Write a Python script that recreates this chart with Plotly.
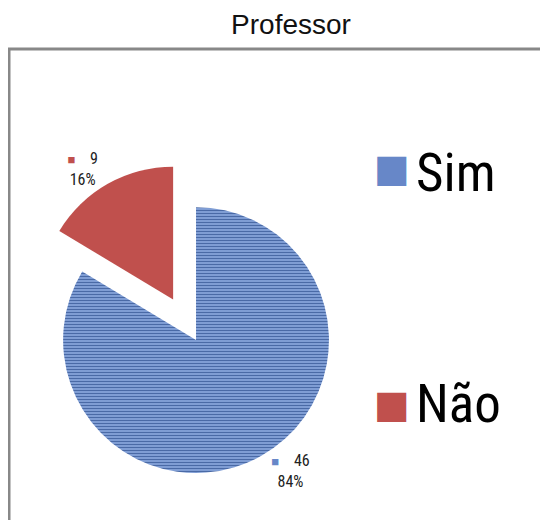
import plotly.graph_objects as go

# ---- data ----
labels = ["Sim", "Não"]
values = [46, 9]
colors = ["#6787c8", "#c0504d"]
title_text = "Professor"

NARROW = "Liberation Sans Narrow, Arial Narrow, Roboto Condensed, sans-serif"

texttemplates = [
    "<span style='color:%s;font-size:13px'>■</span>    %%{value}<br>%%{percent:.0%%}" % c
    for c in colors
]

fig = go.Figure()
fig.add_trace(go.Pie(
    labels=labels,
    values=values,
    sort=False,
    direction="clockwise",
    rotation=0,
    pull=[0, 0.35],
    marker=dict(
        colors=colors,
        line=dict(width=0),
        pattern=dict(shape=["-", ""], fgcolor=["#4a6aa6", "#c0504d"],
                     bgcolor=["#8aa8de", "#c0504d"], size=3, solidity=0.45),
    ),
    textposition="outside",
    texttemplate=texttemplates,
    textinfo="none",
    outsidetextfont=dict(family=NARROW, size=16, color="#222"),
    domain=dict(x=[0.014, 0.680], y=[0.001, 0.763]),
    showlegend=False,
    automargin=False,
    hoverinfo="label+value+percent",
))

# legend drawn as text, built from labels/colors
marker_y = [0.7475, 0.2455]
text_y = [0.737, 0.246]
annotations = []
for lab, col, my, ty in zip(labels, colors, marker_y, text_y):
    annotations.append(dict(
        x=0.7097, y=my, xref="paper", yref="paper", xanchor="center", yanchor="middle",
        text="■", showarrow=False, font=dict(family="DejaVu Sans", size=38, color=col)))
    annotations.append(dict(
        x=0.7516, y=ty, xref="paper", yref="paper", xanchor="left", yanchor="middle",
        text=lab, showarrow=False, font=dict(family=NARROW, size=53, color="#000")))

fig.update_layout(
    width=540, height=512,
    margin=dict(l=1, r=0, t=41, b=0, autoexpand=False),
    paper_bgcolor="white",
    plot_bgcolor="white",
    title=dict(text=title_text, x=283 / 540, xref="container", xanchor="center",
               y=1 - 16 / 512, yref="container", yanchor="middle",
               font=dict(family="Liberation Sans, Arial, sans-serif", size=28, color="#111")),
    shapes=[dict(type="rect", xref="paper", yref="paper", x0=0, x1=1.1, y0=-0.1, y1=1,
                 line=dict(color="#888888", width=3), fillcolor="rgba(0,0,0,0)")],
    annotations=annotations,
)

fig.write_html("out.html")
